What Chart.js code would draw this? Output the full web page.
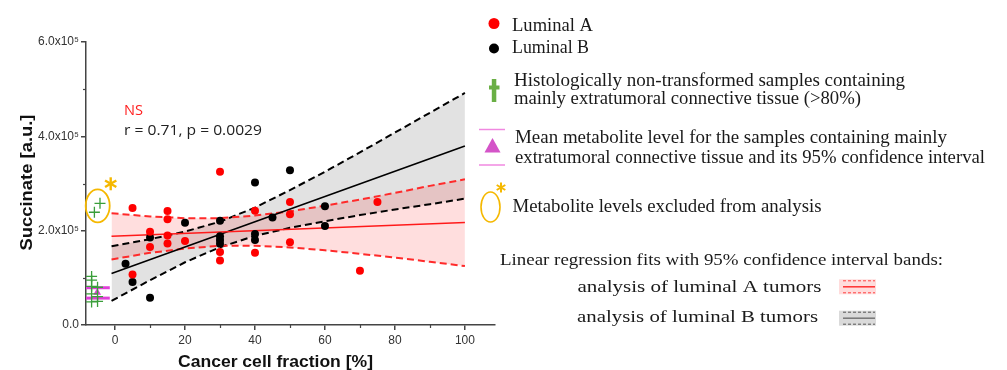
<!DOCTYPE html>
<html>
<head>
<meta charset="utf-8">
<script src="https://cdn.jsdelivr.net/npm/chart.js@4.4.1/dist/chart.umd.min.js"></script>
<style>
  html, body { margin: 0; padding: 0; background: #fff; }
  #wrap { width: 1007px; height: 370px; position: relative; }
</style>
</head>
<body>
<div id="wrap"><canvas id="c" width="1007" height="370"></canvas></div>
<script>
// Luminal A tumours: cancer cell fraction [%] vs succinate [a.u.]
const lumA_x = [5, 5, 10, 10, 15, 15, 15, 15, 20, 30, 30, 30, 40, 40, 50, 50, 50, 70, 75];
const lumA_y = [248000, 107000, 197500, 165500, 241500, 224000, 190000, 173000, 178000, 325000, 155000, 137000, 242000, 153000, 261000, 235000, 175500, 115000, 261000];

// Luminal B tumours
const lumB_x = [3, 5, 10, 10, 20, 30, 30, 30, 30, 40, 40, 40, 45, 50, 60, 60];
const lumB_y = [130000, 91000, 185500, 58000, 217000, 221000, 188000, 180000, 172000, 302000, 193000, 180000, 228000, 328000, 252000, 210000];

// Samples of mainly extratumoral connective tissue (plotted left of 0 %)
const ct_x = [-6.7, -6.7, -6.7, -6.7, -6.7, -5.0, -5.0, -5.0];
const ct_y = [103000, 95000, 82000, 66000, 49000, 80000, 60000, 50000];
const excluded_x = [-5.9, -4.3];
const excluded_y = [239000, 258000];
const ctMean_x = [-5.1];
const ctMean_y = [69000];
const ctCI = [57000, 79000];
const ctCI_x = [-8.3, -1.5];

// Regression fits and 95% confidence bands
const fit_x = [-1, 100];
const lumA_fit = [188300, 217200];
const lumB_fit = [109000, 379700];
const band_x = [-1, 10, 20, 30, 40, 50, 60, 70, 80, 90, 100];
const lumA_upper = [237000, 230000, 226500, 226500, 232000, 241000, 253000, 266000, 280000, 295000, 309000];
const lumA_lower = [139000, 153000, 162000, 168000, 168000, 164500, 158500, 151000, 143000, 134000, 125000];
const lumB_upper = [167000, 182000, 198000, 219000, 249000, 286000, 325000, 366000, 408000, 450000, 492000];
const lumB_lower = [51000, 95000, 133000, 165000, 189000, 206000, 220000, 233000, 245000, 256000, 268000];

// Axis ticks
const xTicks = [0, 20, 40, 60, 80, 100];
const xMinorTicks = [10, 30, 50, 70, 90];
const yTicks = [0, 200000, 400000, 600000];
const yTickLabels = ['0.0', '2.0x10\u2075', '4.0x10\u2075', '6.0x10\u2075'];
const yMinorTicks = [100000, 300000, 500000];

const xTitle = 'Cancer cell fraction [%]';
const yTitle = 'Succinate [a.u.]';
const statsNS = 'NS';
const statsB = 'r = 0.71, p = 0.0029';

const pts = (xs, ys) => xs.map((x, i) => ({ x, y: ys[i] }));

const RED = '#ff0000';
const GREEN = '#3a9e3a';
const MAGENTA = '#e040d8';
const GOLD = '#f5b800';

function fitText(ctx, text, x, y, w, font, color, align, baseline) {
  ctx.save();
  ctx.font = font;
  ctx.fillStyle = color;
  ctx.textAlign = 'left';
  ctx.textBaseline = baseline || 'alphabetic';
  const m = ctx.measureText(text).width;
  const x0 = align === 'center' ? x - w / 2 : x;
  ctx.translate(x0, y);
  ctx.scale(w / m, 1);
  ctx.fillText(text, 0, 0);
  ctx.restore();
}

function asterisk(ctx, cx, cy, r, lw) {
  ctx.save();
  ctx.strokeStyle = GOLD;
  ctx.lineWidth = lw;
  ctx.lineCap = 'butt';
  for (let k = 0; k < 3; k++) {
    const a = Math.PI / 2 + k * Math.PI / 3;
    ctx.beginPath();
    ctx.moveTo(cx - r * Math.cos(a), cy - r * Math.sin(a));
    ctx.lineTo(cx + r * Math.cos(a), cy + r * Math.sin(a));
    ctx.stroke();
  }
  ctx.restore();
}

function ellipse(ctx, cx, cy, rx, ry, lw) {
  ctx.save();
  ctx.strokeStyle = GOLD;
  ctx.lineWidth = lw;
  ctx.beginPath();
  ctx.ellipse(cx, cy, rx, ry, 0, 0, Math.PI * 2);
  ctx.stroke();
  ctx.restore();
}

const decorations = {
  id: 'decorations',
  afterDraw(chart) {
    const ctx = chart.ctx;
    const xs = chart.scales.x, ys = chart.scales.y;
    const area = chart.chartArea;

    // minor ticks
    ctx.save();
    ctx.strokeStyle = '#444';
    ctx.lineWidth = 1.2;
    xMinorTicks.forEach(v => {
      const px = Math.round(xs.getPixelForValue(v)) + 0.5;
      ctx.beginPath(); ctx.moveTo(px, area.bottom); ctx.lineTo(px, area.bottom + 3); ctx.stroke();
    });
    yMinorTicks.forEach(v => {
      const py = Math.round(ys.getPixelForValue(v)) + 0.5;
      ctx.beginPath(); ctx.moveTo(area.left, py); ctx.lineTo(area.left - 3, py); ctx.stroke();
    });
    ctx.restore();

    // excluded samples marker
    const ex = xs.getPixelForValue((excluded_x[0] + excluded_x[1]) / 2);
    const ey = ys.getPixelForValue((excluded_y[0] + excluded_y[1]) / 2);
    ellipse(ctx, ex + 0.5, ey - 2, 12, 16.5, 1.8);
    asterisk(ctx, ex + 13.5, ey - 24, 6.5, 2.4);

    // statistics
    fitText(ctx, statsNS, 124, 114.5, 19, '14px "Open Sans"', '#ff2020');
    fitText(ctx, statsB, 124, 135, 138, '14px "Open Sans"', '#222');

    // axis titles
    fitText(ctx, xTitle, 275.5, 366.5, 195, 'bold 17px "Liberation Sans"', '#111', 'center');
    ctx.save();
    ctx.translate(27, 182.5);
    ctx.rotate(-Math.PI / 2);
    fitText(ctx, yTitle, 0, 0, 136, 'bold 17px "Liberation Sans"', '#111', 'center', 'middle');
    ctx.restore();

    // legend
    const serif = '18px "Liberation Serif"';
    const tcol = '#1a1a1a';
    ctx.save();
    ctx.fillStyle = RED;
    ctx.beginPath(); ctx.arc(494, 23.5, 5.5, 0, Math.PI * 2); ctx.fill();
    ctx.fillStyle = '#000';
    ctx.beginPath(); ctx.arc(494, 48.5, 5, 0, Math.PI * 2); ctx.fill();
    ctx.fillStyle = '#6aaf45';
    ctx.fillRect(491.8, 79, 4.5, 23);
    ctx.fillRect(489, 85.5, 10.5, 4);
    ctx.strokeStyle = '#f088e0';
    ctx.lineWidth = 1.5;
    ctx.beginPath(); ctx.moveTo(479, 129.5); ctx.lineTo(505, 129.5); ctx.stroke();
    ctx.beginPath(); ctx.moveTo(479, 165); ctx.lineTo(505, 165); ctx.stroke();
    ctx.fillStyle = '#d454c8';
    ctx.beginPath(); ctx.moveTo(492.5, 138); ctx.lineTo(500.5, 152.5); ctx.lineTo(484.5, 152.5); ctx.closePath(); ctx.fill();
    ctx.restore();
    ellipse(ctx, 490.5, 207, 9.5, 15, 1.6);
    asterisk(ctx, 501, 187.5, 5, 2);

    fitText(ctx, 'Luminal A', 512, 30.5, 81, serif, tcol);
    fitText(ctx, 'Luminal B', 512, 53, 77, serif, tcol);
    fitText(ctx, 'Histologically non-transformed samples containing', 514, 86, 391, serif, tcol);
    fitText(ctx, 'mainly extratumoral connective tissue (>80%)', 514, 104, 347, serif, tcol);
    fitText(ctx, 'Mean metabolite level for the samples containing mainly', 515, 143.3, 432, serif, tcol);
    fitText(ctx, 'extratumoral connective tissue and its 95% confidence interval', 515, 163.3, 470, serif, tcol);
    fitText(ctx, 'Metabolite levels excluded from analysis', 512.5, 211.7, 309, serif, tcol);
    const times = '17.5px "Liberation Serif"';
    fitText(ctx, 'Linear regression fits with 95% confidence interval bands:', 500, 265, 443, times, tcol);
    fitText(ctx, 'analysis of luminal A tumors', 577.5, 291.7, 244, times, tcol);
    fitText(ctx, 'analysis of luminal B tumors', 577, 321.7, 241, times, tcol);

    // band legend swatches
    const swatch = (y0, fill, dashCol, lineCol) => {
      ctx.save();
      ctx.fillStyle = fill;
      ctx.fillRect(839, y0, 37, 15);
      ctx.lineWidth = 1;
      ctx.strokeStyle = dashCol;
      ctx.setLineDash([3, 2]);
      ctx.beginPath(); ctx.moveTo(843, y0 + 1.5); ctx.lineTo(875, y0 + 1.5); ctx.stroke();
      ctx.beginPath(); ctx.moveTo(843, y0 + 13.5); ctx.lineTo(875, y0 + 13.5); ctx.stroke();
      ctx.setLineDash([]);
      ctx.lineWidth = 1.5;
      ctx.strokeStyle = lineCol;
      ctx.beginPath(); ctx.moveTo(843, y0 + 7.5); ctx.lineTo(875, y0 + 7.5); ctx.stroke();
      ctx.restore();
    };
    swatch(279.3, '#ffdcdc', '#ff4040', '#ff3030');
    swatch(310.7, '#dadada', '#555', '#777');
  }
};

const lineDs = (xs, ys, color, width, dash, extra) => Object.assign({
  data: pts(xs, ys),
  showLine: true,
  borderColor: color,
  borderWidth: width,
  borderDash: dash || [],
  pointRadius: 0,
  pointHoverRadius: 0,
  tension: 0,
  fill: false
}, extra || {});

// datasets listed first are painted on top
new Chart(document.getElementById('c'), {
  type: 'scatter',
  data: {
    datasets: [
      { label: 'Luminal A', data: pts(lumA_x, lumA_y), backgroundColor: RED, borderWidth: 0, pointRadius: 4 },
      { label: 'Luminal B', data: pts(lumB_x, lumB_y), backgroundColor: '#000', borderWidth: 0, pointRadius: 4 },
      { label: 'Connective tissue', data: pts(ct_x, ct_y), pointStyle: 'cross', borderColor: GREEN, backgroundColor: GREEN, borderWidth: 1.3, pointRadius: 5.5 },
      { label: 'Excluded', data: pts(excluded_x, excluded_y), pointStyle: 'cross', borderColor: GREEN, backgroundColor: GREEN, borderWidth: 1.3, pointRadius: 5.5 },
      { label: 'Mean', data: pts(ctMean_x, ctMean_y), pointStyle: 'triangle', backgroundColor: MAGENTA, borderColor: MAGENTA, borderWidth: 0, pointRadius: 4.5 },
      lineDs(ctCI_x, [ctCI[1], ctCI[1]], MAGENTA, 3),
      lineDs(ctCI_x, [ctCI[0], ctCI[0]], MAGENTA, 3),
      lineDs(fit_x, lumA_fit, '#ff1a1a', 1.6),
      lineDs(fit_x, lumB_fit, '#000', 1.6),
      lineDs(band_x, lumA_upper, '#ff2a2a', 2, [7, 4], { fill: '+1', backgroundColor: 'rgba(255,0,0,0.13)' }),
      lineDs(band_x, lumA_lower, '#ff2a2a', 2, [7, 4]),
      lineDs(band_x, lumB_upper, '#000', 2, [7, 4], { fill: '+1', backgroundColor: 'rgba(120,120,120,0.21)' }),
      lineDs(band_x, lumB_lower, '#000', 2, [7, 4])
    ]
  },
  options: {
    responsive: false,
    animation: false,
    devicePixelRatio: 1,
    events: [],
    layout: { padding: { left: 0, top: 42, right: 512, bottom: 0 } },
    plugins: {
      legend: { display: false },
      tooltip: { enabled: false },
      filler: { drawTime: 'beforeDatasetsDraw' }
    },
    scales: {
      x: {
        type: 'linear',
        min: -8.3,
        max: 108.6,
        afterBuildTicks: s => { s.ticks = xTicks.map(v => ({ value: v })); },
        afterFit: s => { s.height = 45; },
        border: { display: true, color: '#444', width: 1.5 },
        grid: { display: true, drawOnChartArea: false, drawTicks: true, tickLength: 5, color: '#444', lineWidth: 1.5 },
        ticks: { autoSkip: false, maxRotation: 0, padding: 3, color: '#333', font: { family: '"Liberation Sans"', size: 12 } }
      },
      y: {
        type: 'linear',
        min: 0,
        max: 600000,
        afterBuildTicks: s => { s.ticks = yTicks.map(v => ({ value: v })); },
        afterFit: s => { s.width = 86; },
        border: { display: true, color: '#444', width: 1.5 },
        grid: { display: true, drawOnChartArea: false, drawTicks: true, tickLength: 5, color: '#444', lineWidth: 1.5 },
        ticks: {
          padding: 2,
          color: '#333',
          font: { family: '"Liberation Sans"', size: 12 },
          callback: (v, i) => yTickLabels[i]
        }
      }
    }
  },
  plugins: [decorations]
});
</script>
</body>
</html>
